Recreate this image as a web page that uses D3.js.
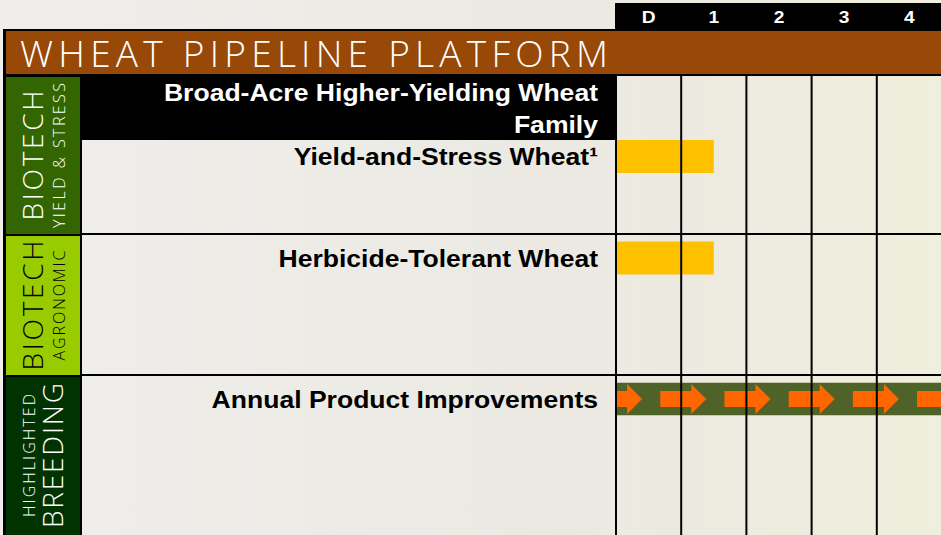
<!DOCTYPE html>
<html>
<head>
<meta charset="utf-8">
<script src="https://cdn.jsdelivr.net/npm/d3@7"></script>
<style>
  html, body { margin: 0; padding: 0; background: #ecebe6; }
  svg { display: block; }
</style>
</head>
<body>
<div id="chart"></div>
<script>
// pipeline stages (columns)
const stages = ["D", "1", "2", "3", "4"];

// platform groups down the left side, two lines each
const groupLines = [
  ["BIOTECH", "YIELD & STRESS"],
  ["BIOTECH", "AGRONOMIC"],
  ["HIGHLIGHTED", "BREEDING"]
];

// family header inside a group (only the first has one)
const familyLines = [["Broad-Acre Higher-Yielding Wheat", "Family"], null, null];

// products and how far along the pipeline they are (in stages)
const products = ["Yield-and-Stress Wheat\u00b9", "Herbicide-Tolerant Wheat", "Annual Product Improvements"];
const productGroup = [0, 1, 2];
const productStage = [1.5, 1.5, 5];
const productKind = ["bar", "bar", "arrows"];

const title = "WHEAT PIPELINE PLATFORM";

// ---- layout / style ----
const W = 941, H = 535;
const gridLeft = 616, gridRight = 942;
const labelLeft = 5, labelRight = 81;
const labelEnd = 598;
const groupEdges = [76, 235, 376, 545];
const groupFill = ["#336600", "#99cc00", "#003300"];
const groupInk = ["#ffffff", "#000000", "#ffffff"];
const groupBig = [0, 0, 1]; // which line is the large one
const familyHeight = 64;
const barHeight = 33;
const stretch = 1.13; // bold labels are drawn a bit wide in the original
const sans = "'Liberation Sans', Arial, sans-serif";
const thin = "'Open Sans', 'DejaVu Sans', sans-serif";

const svg = d3.select("#chart").append("svg")
  .attr("width", W)
  .attr("height", H);

const defs = svg.append("defs");
const bg = defs.append("linearGradient").attr("id", "bg").attr("x1", 0).attr("x2", 1);
bg.append("stop").attr("offset", "0%").attr("stop-color", "#efeeeb");
bg.append("stop").attr("offset", "60%").attr("stop-color", "#ebe9e2");
bg.append("stop").attr("offset", "100%").attr("stop-color", "#f0eedc");

svg.append("rect")
  .attr("width", W)
  .attr("height", H)
  .attr("fill", "url(#bg)");

const x = d3.scaleBand().domain(stages).range([gridLeft, gridRight]);
const xs = d3.scaleLinear().domain([0, stages.length]).range([gridLeft, gridRight]);

// stage header
svg.append("rect")
  .attr("x", gridLeft - 1)
  .attr("y", 3)
  .attr("width", W - gridLeft + 1)
  .attr("height", 28)
  .attr("fill", "#000");

svg.selectAll("text.stage")
  .data(stages)
  .join("text")
  .attr("class", "stage")
  .attr("transform", (d) => "translate(" + (x(d) + x.bandwidth() / 2) + ",23) scale(" + stretch + ",1)")
  .attr("text-anchor", "middle")
  .attr("font-family", sans)
  .attr("font-weight", "bold")
  .attr("font-size", "17px")
  .attr("fill", "#fff")
  .text((d) => d);

// title bar
svg.append("rect")
  .attr("x", labelLeft)
  .attr("y", 30)
  .attr("width", W - labelLeft + 2)
  .attr("height", 45)
  .attr("fill", "#984807")
  .attr("stroke", "#000")
  .attr("stroke-width", 2);

svg.append("text")
  .attr("x", 20)
  .attr("y", 67)
  .attr("font-family", thin)
  .attr("font-weight", 300)
  .attr("font-size", "37px")
  .attr("fill", "#fff")
  .attr("textLength", 588)
  .attr("lengthAdjust", "spacing")
  .text(title);

// left group blocks
const groups = svg.selectAll("g.group")
  .data(groupLines)
  .join("g")
  .attr("class", "group");

groups.append("rect")
  .attr("x", labelLeft)
  .attr("y", (d, i) => groupEdges[i])
  .attr("width", labelRight - labelLeft)
  .attr("height", (d, i) => groupEdges[i + 1] - groupEdges[i])
  .attr("fill", (d, i) => groupFill[i])
  .attr("stroke", "#000")
  .attr("stroke-width", 2);

const bigLen = { "BIOTECH": 130, "BREEDING": 145 };
const smallLen = { "YIELD & STRESS": 145, "AGRONOMIC": 110, "HIGHLIGHTED": 123 };

groups.each(function (lines, i) {
  const g = d3.select(this);
  const cy = (groupEdges[i] + Math.min(groupEdges[i + 1], H)) / 2;
  lines.forEach((line, j) => {
    const big = groupBig[i] === j;
    let bx;
    if (j === 0) bx = big ? 43 : 35;
    else bx = big ? 63 : 65;
    g.append("text")
      .attr("transform", "translate(" + bx + "," + cy + ") rotate(-90)")
      .attr("text-anchor", "middle")
      .attr("font-family", thin)
      .attr("font-weight", 300)
      .attr("font-size", big ? "28px" : "16px")
      .attr("fill", groupInk[i])
      .attr("textLength", big ? bigLen[line] : smallLen[line])
      .attr("lengthAdjust", "spacing")
      .text(line);
  });
});

// family header rows
familyLines.forEach((lines, i) => {
  if (!lines) return;
  svg.append("rect")
    .attr("x", labelRight)
    .attr("y", groupEdges[i])
    .attr("width", gridLeft - labelRight)
    .attr("height", familyHeight)
    .attr("fill", "#000");
  svg.append("text")
    .attr("transform", "translate(" + labelEnd + "," + (groupEdges[i] + 25) + ") scale(" + stretch + ",1)")
    .attr("text-anchor", "end")
    .attr("font-family", sans)
    .attr("font-weight", "bold")
    .attr("font-size", "23.5px")
    .attr("fill", "#fff")
    .selectAll("tspan")
    .data(lines)
    .join("tspan")
    .attr("x", 0)
    .attr("dy", (d, k) => (k === 0 ? 0 : 32))
    .text((d) => d);
});

// product rows
const rowTop = (i) => {
  const g = productGroup[i];
  return familyLines[g] ? groupEdges[g] + familyHeight : groupEdges[g] + 6.5;
};

svg.selectAll("text.product")
  .data(products)
  .join("text")
  .attr("class", "product")
  .attr("transform", (d, i) => "translate(" + labelEnd + "," + (rowTop(i) + barHeight / 2 + 8.5) + ") scale(" + stretch + ",1)")
  .attr("text-anchor", "end")
  .attr("font-family", sans)
  .attr("font-weight", "bold")
  .attr("font-size", "23.5px")
  .attr("fill", "#000")
  .text((d) => d);

const barIdx = d3.range(products.length).filter((i) => productKind[i] === "bar");
svg.selectAll("rect.bar")
  .data(barIdx)
  .join("rect")
  .attr("class", "bar")
  .attr("x", xs(0) + 1)
  .attr("y", (i) => rowTop(i))
  .attr("width", (i) => xs(productStage[i]) - xs(0) - 1)
  .attr("height", barHeight)
  .attr("fill", "#ffc000");

// arrow band for continuous improvements
const arrowIdx = d3.range(products.length).filter((i) => productKind[i] === "arrows");
arrowIdx.forEach((i) => {
  const top = rowTop(i);
  const cy = top + barHeight / 2;
  const right = Math.min(xs(productStage[i]), W);
  defs.append("clipPath")
    .attr("id", "band" + i)
    .append("rect")
    .attr("x", xs(0) + 1)
    .attr("y", top)
    .attr("width", right - xs(0))
    .attr("height", barHeight);
  const band = svg.append("g").attr("clip-path", "url(#band" + i + ")");
  band.append("rect")
    .attr("x", xs(0) + 1)
    .attr("y", top)
    .attr("width", right - xs(0))
    .attr("height", barHeight)
    .attr("fill", "#4f6228");
  const step = xs(1) - xs(0) - 1;
  const tips = d3.range(Math.ceil(productStage[i]) + 1).map((k) => xs(0.4) + k * step);
  band.selectAll("path.arrow")
    .data(tips)
    .join("path")
    .attr("class", "arrow")
    .attr("d", (tx) => {
      const pts = [
        [tx - 46, cy - 8], [tx - 15, cy - 8], [tx - 15, cy - 15], [tx, cy],
        [tx - 15, cy + 15], [tx - 15, cy + 8], [tx - 46, cy + 8]
      ];
      return d3.line()(pts) + "Z";
    })
    .attr("fill", "#ff6600");
});

// grid lines
svg.selectAll("line.col")
  .data(stages.concat(["end"]))
  .join("line")
  .attr("class", "col")
  .attr("x1", (d) => (d === "end" ? gridRight : x(d)))
  .attr("x2", (d) => (d === "end" ? gridRight : x(d)))
  .attr("y1", groupEdges[0])
  .attr("y2", H)
  .attr("stroke", "#000")
  .attr("stroke-width", 2);

svg.selectAll("line.row")
  .data(groupEdges.slice(1, -1))
  .join("line")
  .attr("class", "row")
  .attr("x1", labelRight)
  .attr("x2", W)
  .attr("y1", (d) => d - 1)
  .attr("y2", (d) => d - 1)
  .attr("stroke", "#000")
  .attr("stroke-width", 2);

// left frame edge on top
svg.append("line")
  .attr("x1", labelLeft - 1)
  .attr("x2", labelLeft - 1)
  .attr("y1", 29)
  .attr("y2", H)
  .attr("stroke", "#000")
  .attr("stroke-width", 2);
</script>
</body>
</html>
